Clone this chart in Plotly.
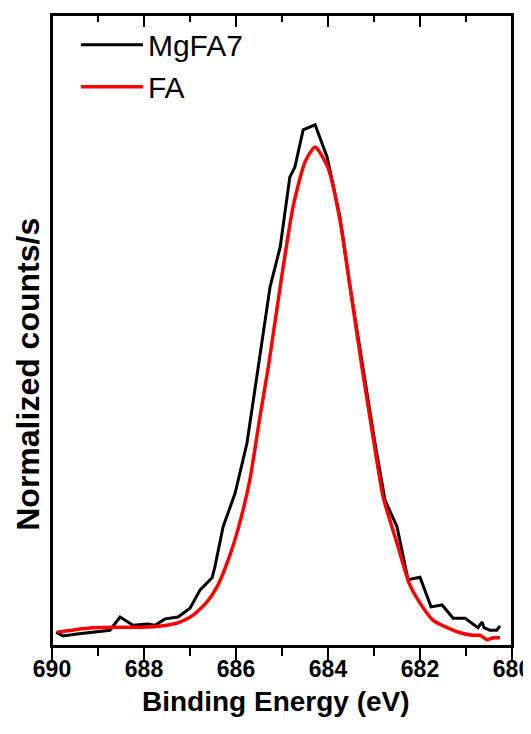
import plotly.graph_objects as go

# MgFA7 (black) spectrum
mgfa7_be = [689.91, 689.76, 689.46, 689.11, 688.74, 688.52, 688.24, 687.93, 687.76, 687.54,
            687.26, 687.00, 686.78, 686.52, 686.46, 686.28, 686.02, 685.76, 685.52, 685.26,
            685.04, 684.83, 684.72, 684.54, 684.28, 684.02, 683.74, 683.52, 683.24, 682.98,
            682.76, 682.50, 682.26, 682.00, 681.76, 681.52, 681.28, 681.02, 680.74, 680.65,
            680.61, 680.48, 680.33, 680.26]
mgfa7_int = [0.022, 0.016, 0.019, 0.022, 0.025, 0.046, 0.033, 0.035, 0.033, 0.043,
             0.046, 0.060, 0.089, 0.108, 0.125, 0.189, 0.242, 0.322, 0.437, 0.569,
             0.632, 0.743, 0.759, 0.818, 0.826, 0.775, 0.680, 0.569, 0.441, 0.322,
             0.231, 0.189, 0.105, 0.109, 0.062, 0.065, 0.044, 0.044, 0.029, 0.038,
             0.029, 0.025, 0.025, 0.032]

# FA (red) spectrum
fa_be = [689.89, 689.11, 687.93, 687.50, 687.22, 686.93, 686.63, 686.41, 686.17, 685.96,
         685.70, 685.48, 685.30, 685.04, 684.76, 684.50, 684.28, 684.00, 683.74, 683.52,
         683.26, 683.02, 682.80, 682.50, 682.24, 682.00, 681.72, 681.41, 681.13, 680.85,
         680.70, 680.54, 680.41, 680.26]
fa_int = [0.022, 0.029, 0.030, 0.033, 0.038, 0.049, 0.070, 0.094, 0.136, 0.184,
          0.263, 0.363, 0.441, 0.569, 0.696, 0.767, 0.791, 0.758, 0.675, 0.569,
          0.441, 0.331, 0.236, 0.163, 0.100, 0.068, 0.041, 0.029, 0.021, 0.017,
          0.017, 0.010, 0.013, 0.013]

x_range = [690, 680]
tick_vals = [690, 688, 686, 684, 682, 680]
x_title = "Binding Energy (eV)"
y_title = "Normalized counts/s"

FONT = "Liberation Sans, Arial, sans-serif"

fig = go.Figure()
fig.add_trace(go.Scatter(x=mgfa7_be, y=mgfa7_int, mode="lines", name="MgFA7",
                         line=dict(color="black", width=3)))
fig.add_trace(go.Scatter(x=fa_be, y=fa_int, mode="lines", name="FA",
                         line=dict(color="#ff0000", width=3.5, shape="spline", smoothing=0.6)))
# invisible trace hosting the top axis (ticks pointing inward)
fig.add_trace(go.Scatter(x=[685], y=[0.5], xaxis="x2", yaxis="y", mode="markers",
                         marker=dict(opacity=0), showlegend=False, hoverinfo="skip"))

fig.update_layout(
    width=523, height=726,
    margin=dict(l=44, r=19, t=7, b=88, autoexpand=False),
    paper_bgcolor="white", plot_bgcolor="white",
    font=dict(family=FONT, color="black"),
    showlegend=True,
    legend=dict(x=0.052, y=0.994, xanchor="left", yanchor="top",
                font=dict(size=30, family=FONT), bgcolor="rgba(0,0,0,0)",
                itemwidth=62, tracegroupgap=0),
    xaxis=dict(range=x_range, tickvals=tick_vals, ticks="outside", ticklen=13, tickwidth=2,
               tickcolor="black", showline=True, linecolor="black", linewidth=2,
               showgrid=False, zeroline=False, automargin=False,
               ticklabeloverflow="allow", ticklabelstandoff=-12,
               tickfont=dict(size=23, family=FONT, weight="bold"),
               minor=dict(dtick=1, ticks="outside", ticklen=8, tickwidth=2, tickcolor="black",
                          showgrid=False)),
    xaxis2=dict(range=x_range, overlaying="x", side="top", anchor="y", tickvals=tick_vals,
                ticks="inside", ticklen=12, tickwidth=2, tickcolor="black", automargin=False,
                showticklabels=False, showline=True, linecolor="black", linewidth=2,
                showgrid=False, zeroline=False,
                minor=dict(dtick=1, ticks="inside", ticklen=7, tickwidth=2, tickcolor="black",
                           showgrid=False)),
    yaxis=dict(range=[0, 1.0], showticklabels=False, ticks="", showline=True,
               linecolor="black", linewidth=2, mirror=True, showgrid=False, zeroline=False,
               automargin=False),
    shapes=[dict(type="rect", xref="paper", yref="paper", x0=0, x1=1, y0=0, y1=1,
                 line=dict(color="black", width=2), layer="above")],
    annotations=[
        dict(text="<b>" + y_title + "</b>", textangle=-90,
             x=-0.052, y=0.43, xref="paper", yref="paper",
             xanchor="center", yanchor="middle", showarrow=False,
             font=dict(size=32, family=FONT, color="black")),
        dict(text="<b>" + x_title + "</b>",
             x=0.487, y=-0.088, xref="paper", yref="paper",
             xanchor="center", yanchor="middle", showarrow=False,
             font=dict(size=28, family=FONT, color="black")),
    ],
)

fig.write_html("out.html")
